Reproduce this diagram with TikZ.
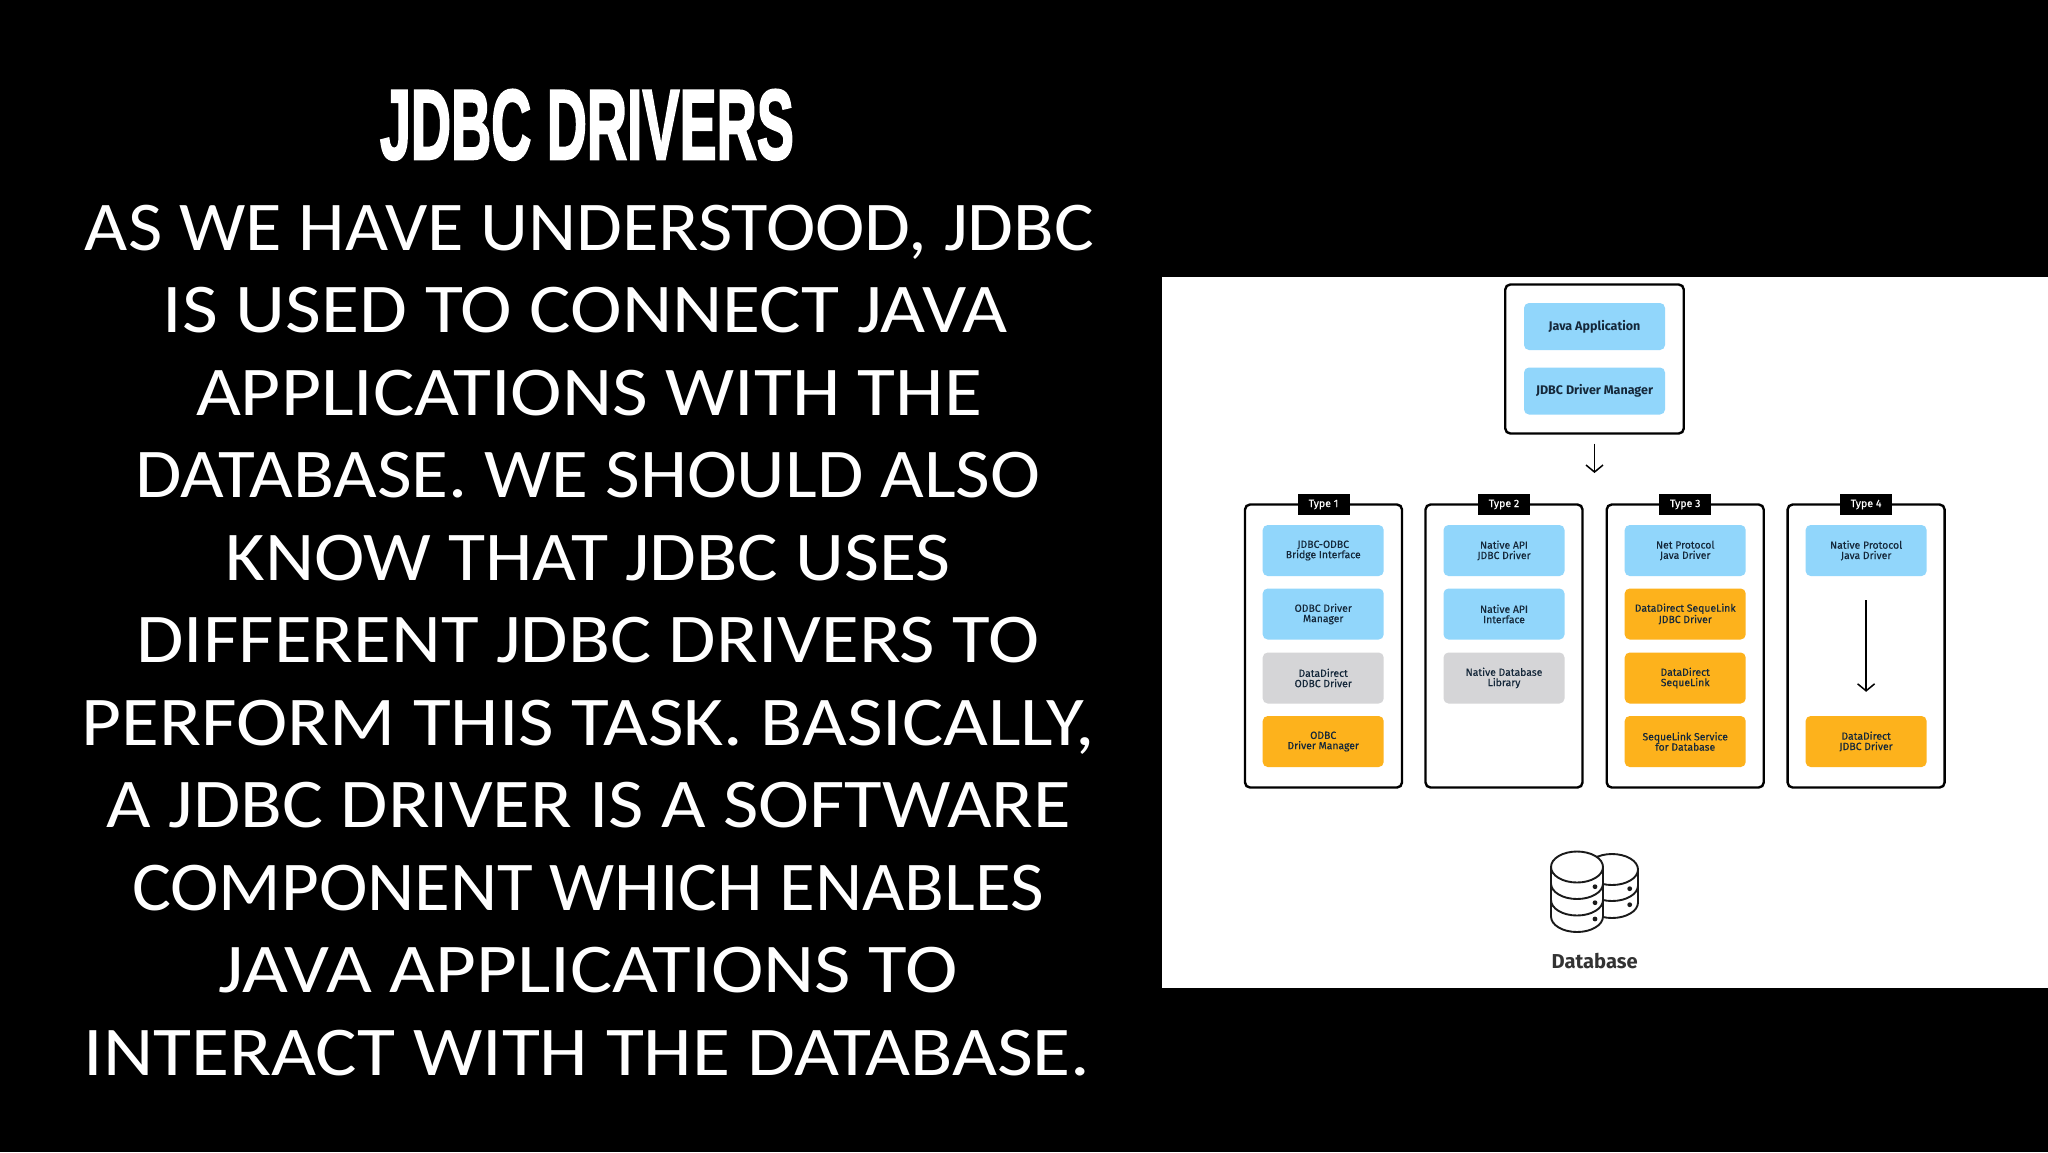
\documentclass[tikz,border=0pt]{standalone}
\usepackage{graphicx}
\usepackage{fontspec}
\usetikzlibrary{arrows.meta}
\setmainfont{Carlito}
\newfontfamily\boxfont[FakeBold=0.35]{Fira Sans}
\newfontfamily\strongfont{Fira Sans}
\newfontfamily\headfont[FakeBold=2.5]{Liberation Sans Bold}
\definecolor{skyfill}{HTML}{91D6FB}
\definecolor{amberfill}{HTML}{FDB21C}
\definecolor{greyfill}{HTML}{D5D5D7}
\definecolor{inkblue}{HTML}{15283A}
\definecolor{iconink}{HTML}{1A1A1A}
\newcommand{\fitline}[3]{\resizebox{#1pt}{#2pt}{\raisebox{0pt}[0.644em][0pt]{#3}}}
\newcommand{\fithead}[3]{\resizebox{#1pt}{#2pt}{\raisebox{0pt}[0.715em][0pt]{#3}}}
\tikzset{
  x=1pt,y=-1pt,
  bodyline/.style={anchor=base,inner sep=0pt,outer sep=0pt,text=white,font=\fontsize{64}{64}\selectfont},
  frame/.style={draw=black,line width=2.4pt,fill=white,rounded corners=5pt,inner sep=0pt,minimum width=157pt,minimum height=283pt},
  card/.style={rounded corners=5pt,inner sep=0pt,minimum width=121pt,minimum height=51pt,align=center,text=inkblue,
     font=\boxfont\fontsize{10.4}{10.3}\selectfont},
  sky/.style={card,fill=skyfill},
  amber/.style={card,fill=amberfill},
  greycard/.style={card,fill=greyfill},
  wide/.style={rounded corners=5pt,fill=skyfill,inner sep=0pt,minimum width=141pt,minimum height=47pt,text=inkblue,
     font=\strongfont\bfseries\fontsize{12.5}{14}\selectfont},
  tag/.style={fill=black,text=white,inner sep=0pt,minimum width=52pt,minimum height=21pt,font=\boxfont\fontsize{10.6}{11}\selectfont},
  flow/.style={draw=black,line width=1.5pt,-{Straight Barb[length=7pt,width=17pt,line width=1.5pt]}},
  dbline/.style={draw=iconink,line width=1.9pt,fill=white},
}
\begin{document}
\begin{tikzpicture}
\useasboundingbox (0,0) rectangle (2048,1152);
\fill[black] (0,0) rectangle (2048,1152);
\fill[white] (1162,277) rectangle (2048,988);

% left text
\node[anchor=base,inner sep=0pt,text=white,font=\headfont\fontsize{64}{64}\selectfont] (title) at (587,159) {\fithead{414}{71}{JDBC DRIVERS}};
\node[bodyline] (l1) at (589.5,250) {\fitline{1009}{45}{AS WE HAVE UNDERSTOOD, JDBC}};
\node[bodyline] (l2) at (585.5,332.5) {\fitline{845}{45}{IS USED TO CONNECT JAVA}};
\node[bodyline] (l3) at (589,415) {\fitline{786}{45}{APPLICATIONS WITH THE}};
\node[bodyline] (l4) at (588,497.5) {\fitline{905}{45}{DATABASE. WE SHOULD ALSO}};
\node[bodyline] (l5) at (588,580) {\fitline{725}{45}{KNOW THAT JDBC USES}};
\node[bodyline] (l6) at (588,662.5) {\fitline{903}{45}{DIFFERENT JDBC DRIVERS TO}};
\node[bodyline] (l7) at (588,745) {\fitline{1013}{45}{PERFORM THIS TASK. BASICALLY,}};
\node[bodyline] (l8) at (589,827.5) {\fitline{964}{45}{A JDBC DRIVER IS A SOFTWARE}};
\node[bodyline] (l9) at (588,910) {\fitline{912}{45}{COMPONENT WHICH ENABLES}};
\node[bodyline] (l10) at (588,992.5) {\fitline{739}{45}{JAVA APPLICATIONS TO}};
\node[bodyline] (l11) at (587,1075) {\fitline{1007}{45}{INTERACT WITH THE DATABASE.}};

% top group
\node[frame,minimum width=178.5pt,minimum height=149pt] (top) at (1594.5,359) {};
\node[wide] (app) at (1594.5,326.5) {Java Application};
\node[wide] (mgr) at (1594.5,391) {JDBC Driver Manager};
\coordinate (topend) at (1594.5,473);
\draw[flow,shorten <=9pt] (top.south) -- (topend);

% type frames
\node[frame] (f1) at (1323.5,646) {};
\node[frame] (f2) at (1504,646) {};
\node[frame] (f3) at (1685.2,646) {};
\node[frame] (f4) at (1866.1,646) {};
\node[tag] (t1) at (1323.5,504.5) {Type 1};
\node[tag] (t2) at (1504,504.5) {Type 2};
\node[tag] (t3) at (1685.2,504.5) {Type 3};
\node[tag] (t4) at (1866.1,504.5) {Type 4};

% type 1
\node[sky] (a1) at (1323.2,550.5) {JDBC-ODBC\\Bridge Interface};
\node[sky] (a2) at (1323.2,614) {ODBC Driver\\Manager};
\node[greycard] (a3) at (1323.2,678) {DataDirect\\ODBC Driver};
\node[amber] (a4) at (1323.2,741.5) {ODBC\\Driver Manager};
% type 2
\node[sky] (b1) at (1504,550.5) {Native API\\JDBC Driver};
\node[sky] (b2) at (1504,614) {Native API\\Interface};
\node[greycard] (b3) at (1504,678) {Native Database\\Library};
% type 3
\node[sky] (c1) at (1685.2,550.5) {Net Protocol\\Java Driver};
\node[amber] (c2) at (1685.2,614) {DataDirect SequeLink\\JDBC Driver};
\node[amber] (c3) at (1685.2,678) {DataDirect\\SequeLink};
\node[amber] (c4) at (1685.2,741.5) {SequeLink Service\\for Database};
% type 4
\node[sky] (d1) at (1866.1,550.5) {Native Protocol\\Java Driver};
\node[amber] (d4) at (1866.1,741.5) {DataDirect\\JDBC Driver};
\draw[flow,shorten <=24pt,shorten >=24pt] (d1.south) -- (d4.north);

% database icon
\path[dbline] (1586,869.5) -- (1586,902.5)
   arc[start angle=180,end angle=360,x radius=26pt,y radius=15.5pt] -- (1638,869.5);
\draw[dbline] (1612,869.5) ellipse [x radius=26pt,y radius=15.5pt];
\draw[dbline,fill=none] (1586,885.5) arc[start angle=180,end angle=360,x radius=26pt,y radius=15.5pt];
\path[dbline] (1551,867) -- (1551,916.5)
   arc[start angle=180,end angle=360,x radius=26pt,y radius=15.5pt] -- (1603,867);
\draw[dbline] (1577,867) ellipse [x radius=26pt,y radius=15.5pt];
\draw[dbline,fill=none] (1551,883.5) arc[start angle=180,end angle=360,x radius=26pt,y radius=15.5pt];
\draw[dbline,fill=none] (1551,900) arc[start angle=180,end angle=360,x radius=26pt,y radius=15.5pt];
\foreach \px/\py in {1595/886.7,1595/902.7,1595/919,1629.7/888.7,1629.7/904.7}
  \fill[iconink] (\px,\py) circle[radius=2.4pt];
\node[anchor=base,inner sep=0pt,text=black!80,font=\strongfont\bfseries\fontsize{19}{19}\selectfont] (dbname) at (1594.7,968) {\resizebox{86pt}{!}{Database}};
\end{tikzpicture}
\end{document}
